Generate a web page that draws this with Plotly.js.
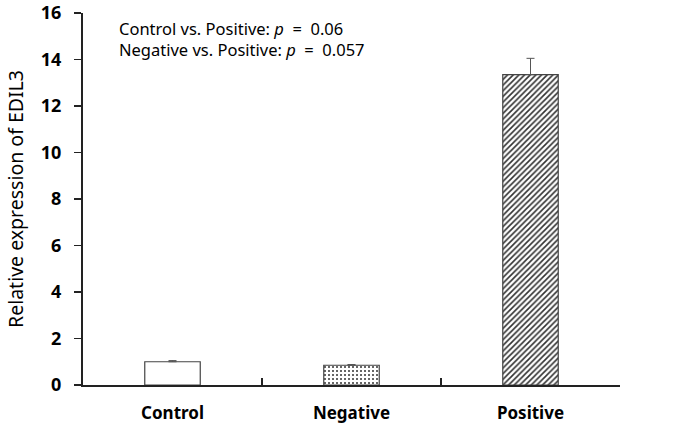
<!DOCTYPE html>
<html>
<head>
<meta charset="utf-8">
<script src="https://cdn.plot.ly/plotly-3.0.1.min.js"></script>
<style>html,body{margin:0;padding:0;background:#fff;}#chart{width:675px;height:428px;}</style>
</head>
<body>
<div id="chart"></div>
<script>
const categories = ["Control", "Negative", "Positive"];
const values = [1.0, 0.85, 13.35];
const errors = [0.05, 0.03, 0.7];
const patterns = ["", ".", "/"];
const yTicks = [0, 2, 4, 6, 8, 10, 12, 14, 16];
const notes = ["Control vs. Positive: <i>p</i>  =  0.06", "Negative vs. Positive: <i>p</i>  =  0.057"];

const trace = {
  type: "bar",
  x: categories,
  y: values,
  width: 0.31,
  marker: {
    color: "#ffffff",
    line: {color: "#444444", width: 1.2},
    pattern: {shape: patterns, fgcolor: "#333333", bgcolor: "#ffffff", size: [6, 4, 4], solidity: [0.3, 0.2, 0.4]}
  },
  error_y: {type: "data", array: errors, visible: true, color: "#555555", thickness: 1, width: 4, symmetric: false, arrayminus: [0,0,0]},
  hoverinfo: "none"
};

const layout = {
  width: 675, height: 428,
  margin: {l: 83, r: 55, t: 13, b: 43},
  paper_bgcolor: "#ffffff", plot_bgcolor: "#ffffff",
  showlegend: false,
  font: {family: "Noto Sans, Open Sans, sans-serif", color: "#000"},
  xaxis: {
    type: "category",
    tickson: "boundaries",
    ticks: "inside", ticklen: 7, tickwidth: 1.5, tickcolor: "#222",
    showline: true, linecolor: "#222", linewidth: 2,
    showgrid: false, zeroline: false,
    tickfont: {size: 17, family: "Noto Sans, sans-serif", weight: "bold", color: "#000"},
    ticklabelstandoff: 12,
    range: [-0.5, 2.5]
  },
  yaxis: {
    range: [0, 16],
    tickvals: yTicks,
    ticklabeloverflow: "allow",
    ticks: "outside", ticklen: 7, tickwidth: 1.5, tickcolor: "#222",
    showline: true, linecolor: "#222", linewidth: 2,
    showgrid: false, zeroline: false,
    tickfont: {size: 18, family: "Noto Sans, sans-serif", weight: "bold", color: "#000"},
    ticklabelstandoff: 9,
    title: {text: "Relative expression of EDIL3", font: {size: 19.5, color: "#000"}, standoff: 12}
  },
  annotations: [{
    text: notes.join("<br>"), xref: "paper", yref: "paper",
    x: (117 - 83) / 537, y: 1 - (39 - 13) / 372,
    xanchor: "left", yanchor: "middle", align: "left", showarrow: false,
    font: {size: 16.5, color: "#000"}
  }]
};

Plotly.newPlot("chart", [trace], layout, {displayModeBar: false, staticPlot: true});
</script>
</body>
</html>
